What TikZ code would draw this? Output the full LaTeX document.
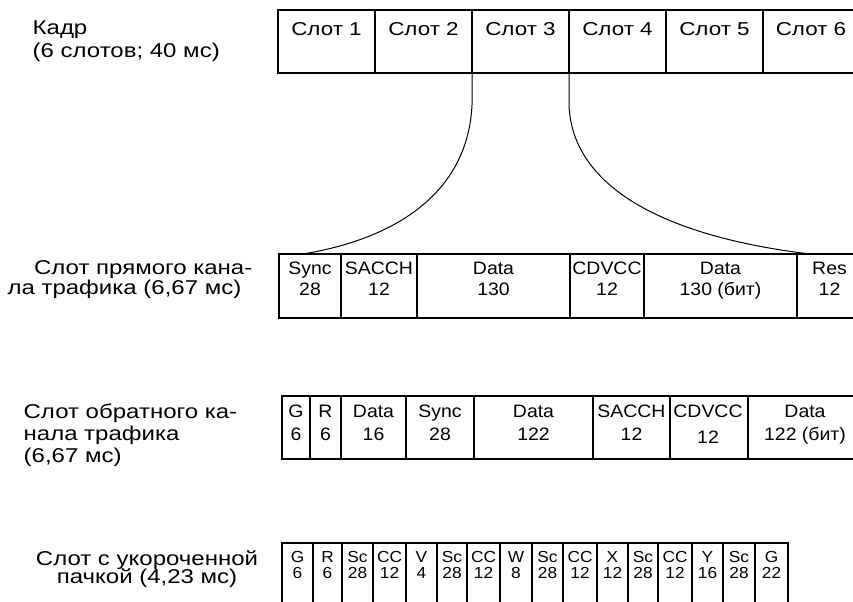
\documentclass[tikz,border=0pt]{standalone}
\usepackage{fontspec}
\setmainfont{Liberation Sans}[FakeStretch=1.08]
\newfontfamily\cyrfont{Liberation Sans}[FakeStretch=1.2]
\begin{document}
\begin{tikzpicture}[x=0.75pt,y=-0.75pt,line width=1pt,
  t1/.style={inner sep=0pt,anchor=base,font=\cyrfont\fontsize{14}{16}\selectfont},
  t2/.style={inner sep=0pt,anchor=base,font=\fontsize{13.5}{16}\selectfont},
  t4/.style={inner sep=0pt,anchor=base,font=\fontsize{12}{14}\selectfont},
  lab/.style={inner sep=0pt,font=\cyrfont\fontsize{15}{17}\selectfont},
  link/.style={line width=0.75pt}]
\useasboundingbox (0,0) rectangle (853,602);
% ---- row 1: frame
\draw (853,10) -- (278,10) -- (278,73) -- (853,73);
\foreach \x in {375,472,569,666,763} \draw (\x,10) -- (\x,73);
\foreach \x [count=\i] in {326.5,423.5,520.5,617.5,714.5,811}
  \node[t1] (f\i) at (\x,36) {Слот \i};
% ---- row 2: forward slot
\draw (853,254) -- (279,254) -- (279,318) -- (853,318);
\foreach \x in {341,417,570,644,797} \draw (\x,254) -- (\x,318);
\foreach \x/\a/\b [count=\i] in {310/Sync/28,379/SACCH/12,493.5/Data/130,607/CDVCC/12,720.5/Data/130 (бит),829.5/Res/12}{
  \node[t2] (fa\i) at (\x,275) {\a};
  \node[t2] (fb\i) at (\x,296) {\b};}
% ---- row 3: reverse slot
\draw (853,396) -- (282,396) -- (282,459) -- (853,459);
\foreach \x in {310,341,406,474,593,670,748} \draw (\x,396) -- (\x,459);
\foreach \x/\a/\b/\y [count=\i] in {296/G/6/440,325.5/R/6/440,373.5/Data/16/440,440/Sync/28/440,533.5/Data/122/440,631.5/SACCH/12/440,708/CDVCC/12/443,805/Data/122 (бит)/440}{
  \node[t2] (ra\i) at (\x,417) {\a};
  \node[t2] (rb\i) at (\x,\y) {\b};}
% ---- row 4: shortened burst
\draw (282,602) -- (282,543) -- (788,543) -- (788,602);
\foreach \x in {313,342,373,406,437,467,500,532,563,597,628,658,692,723,755} \draw (\x,543) -- (\x,602);
\foreach \x/\a/\b [count=\i] in {297.5/G/6,327.5/R/6,357.5/Sc/28,389.5/CC/12,421.5/V/4,452/Sc/28,483.5/CC/12,516/W/8,547.5/Sc/28,580/CC/12,612.5/X/12,643/Sc/28,675/CC/12,707.5/Y/16,739/Sc/28,771.5/G/22}{
  \node[t4] (sa\i) at (\x,562) {\a};
  \node[t4] (sb\i) at (\x,578) {\b};}
% ---- expansion curves
\coordinate (s3l) at (472,73);
\coordinate (s3r) at (569,73);
\coordinate (fwl) at (303,254);
\coordinate (fwr) at (810,254);
\draw[link] (s3l) -- (472,105) .. controls (468,190) and (400,238) .. (fwl);
\draw[link] (s3r) -- (569,105) .. controls (572,185) and (660,236) .. (fwr);
% ---- left labels
\node[lab,anchor=base west] (l1a) at (32,35) {Кадр};
\node[lab,anchor=base west] (l1b) at (32,58) {(6 слотов; 40 мс)};
\node[lab,anchor=base east] (l2a) at (253,275) {Слот прямого кана-};
\node[lab,anchor=base east] (l2b) at (242,295) {ла трафика (6,67 мс)};
\node[lab,anchor=base west] (l3a) at (23,418) {Слот обратного ка-};
\node[lab,anchor=base west] (l3b) at (23,440) {нала трафика};
\node[lab,anchor=base west] (l3c) at (23,462) {(6,67 мс)};
\node[lab,anchor=base] (l4a) at (147,565) {Слот с укороченной};
\node[lab,anchor=base] (l4b) at (147,583) {пачкой (4,23 мс)};
\end{tikzpicture}
\end{document}
